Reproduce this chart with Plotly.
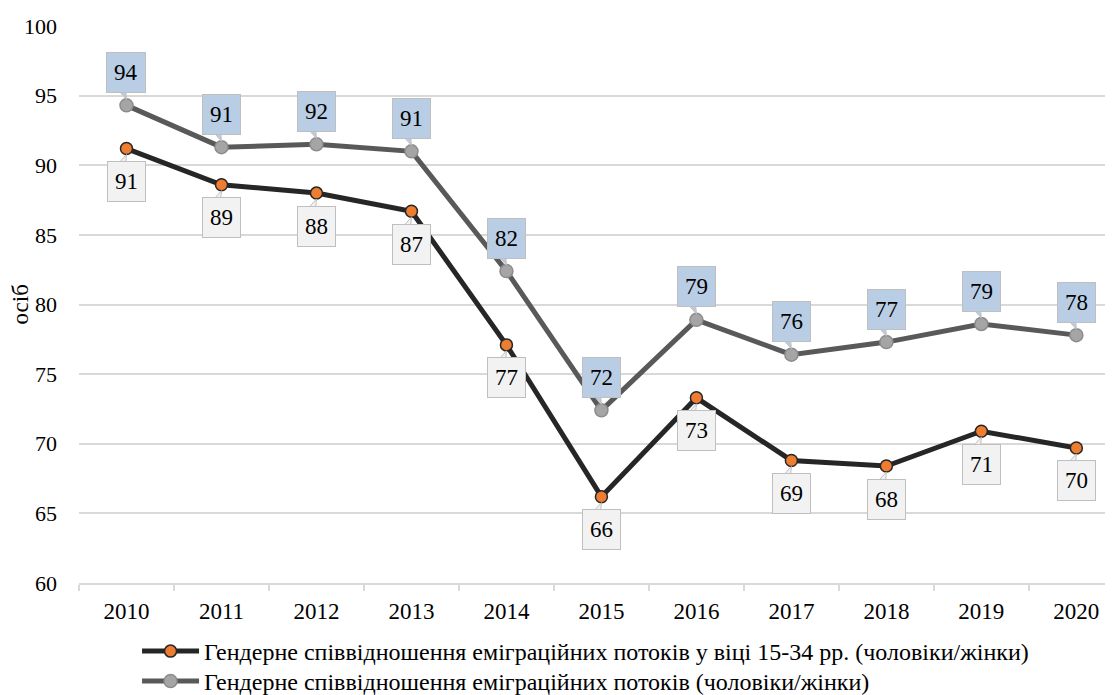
import plotly.graph_objects as go

years = ["2010", "2011", "2012", "2013", "2014", "2015", "2016", "2017", "2018", "2019", "2020"]
youth_ratio = [91.2, 88.6, 88.0, 86.7, 77.1, 66.2, 73.3, 68.8, 68.4, 70.9, 69.7]
total_ratio = [94.3, 91.3, 91.5, 91.0, 82.4, 72.4, 78.9, 76.4, 77.3, 78.6, 77.8]
youth_name = "Гендерне співвідношення еміграційних потоків у віці 15-34 рр. (чоловіки/жінки)"
total_name = "Гендерне співвідношення еміграційних потоків (чоловіки/жінки)"
y_title = "осіб"

FONT = "Liberation Serif, Times New Roman, serif"
GRID = "#d9d9d9"
BORDER = "#bfbfbf"

fig = go.Figure()
fig.add_trace(go.Scatter(
    x=years, y=youth_ratio, name=youth_name, mode="lines+markers", legend="legend",
    line=dict(color="#262626", width=5),
    marker=dict(size=12, color="#ed7d31", line=dict(color="#262626", width=1.5)),
))
fig.add_trace(go.Scatter(
    x=years, y=total_ratio, name=total_name, mode="lines+markers", legend="legend2",
    line=dict(color="#595959", width=5),
    marker=dict(size=13, color="#a5a5a5", line=dict(color="#8c8c8c", width=1.5)),
))

OFF = 33
annotations = []
shapes = []
for series, sign, fill in ((total_ratio, 1, "#b9cde5"), (youth_ratio, -1, "#f2f2f2")):
    for i, v in enumerate(series):
        annotations.append(dict(
            x=i, y=v, xref="x", yref="y", text=str(int(v + 0.5)),
            showarrow=False, yshift=sign * OFF,
            borderpad=7, borderwidth=1,
            bordercolor=BORDER, bgcolor=fill,
            font=dict(family=FONT, size=23, color="#000000"),
        ))
        base = sign * (OFF - 16)
        tip = sign * 6
        shapes.append(dict(
            type="path", xref="x", yref="y", xsizemode="pixel", ysizemode="pixel",
            xanchor=i, yanchor=v,
            path=f"M -10,{base} L 0,{tip} L -1,{base} Z",
            fillcolor=fill, line=dict(color=BORDER, width=1), layer="above",
        ))

annotations.append(dict(
    x=0, y=0.5, xref="paper", yref="paper", text=y_title, showarrow=False,
    xshift=-59, textangle=-90, xanchor="center", yanchor="middle",
    font=dict(family=FONT, size=23, color="#000000"),
))

legend_style = dict(
    orientation="v", x=0.0557, xanchor="left", yanchor="top",
    font=dict(family=FONT, size=24, color="#000000"),
    itemwidth=57, bgcolor="rgba(0,0,0,0)",
)

fig.update_layout(
    width=1113, height=695,
    margin=dict(l=71, r=0, t=18, b=120, autoexpand=False),
    paper_bgcolor="white", plot_bgcolor="white",
    font=dict(family=FONT, size=22, color="#000000"),
    showlegend=True,
    legend=dict(y=-0.0826, **legend_style),
    legend2=dict(y=-0.1364, **legend_style),
    annotations=annotations,
    shapes=shapes,
)
fig.update_xaxes(
    type="category", range=[-0.5, 10.47], automargin=False,
    showgrid=False, showline=True, linecolor=GRID, linewidth=1.5,
    ticks="outside", tickson="boundaries", ticklen=6, tickcolor=GRID, tickwidth=1.5,
    ticklabelstandoff=7,
    tickfont=dict(family=FONT, size=23, color="#000000"),
)
fig.update_yaxes(
    range=[60, 100], dtick=5, showgrid=True, gridcolor=GRID, gridwidth=1.5,
    zeroline=False, showline=False, ticks="", automargin=False,
    ticklabelstandoff=21,
    tickfont=dict(family=FONT, size=22, color="#000000"),
)

fig.write_html("out.html")
